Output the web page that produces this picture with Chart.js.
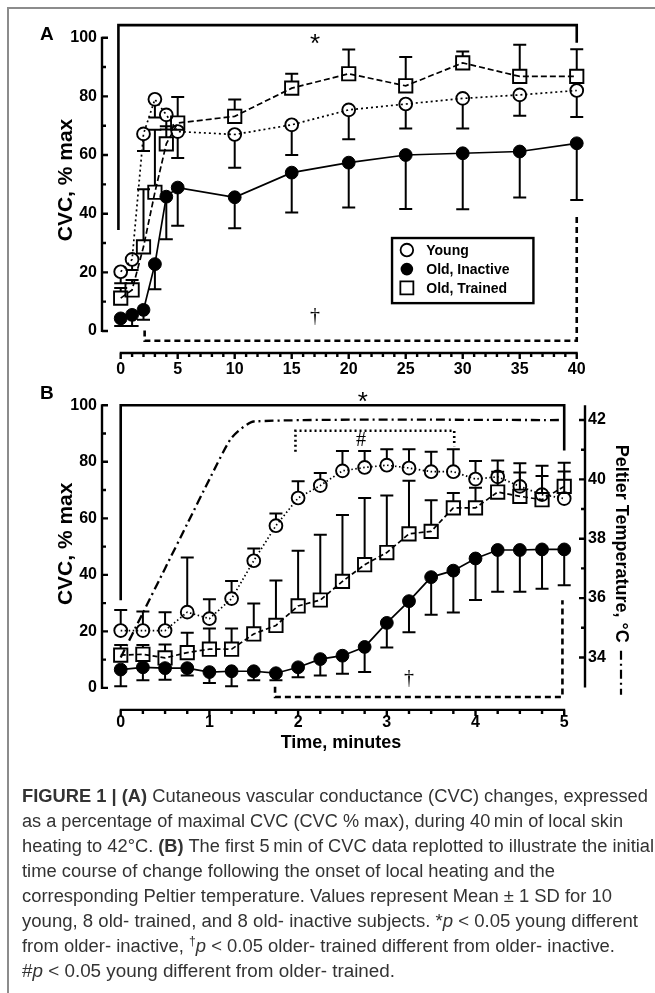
<!DOCTYPE html>
<html>
<head>
<meta charset="utf-8">
<script src="https://cdn.jsdelivr.net/npm/chart.js@4.4.1/dist/chart.umd.min.js"></script>
<style>
  html, body { margin: 0; padding: 0; background: #fff; }
  #fig { position: relative; width: 655px; height: 993px; overflow: hidden; }
  #frame { position: absolute; left: 7px; top: 7px; width: 700px; height: 1100px;
           border-left: 2px solid #8c8c8c; border-top: 2px solid #8c8c8c; }
  #cA { position: absolute; left: 0; top: 0; }
  #cB { position: absolute; left: 0; top: 370px; }
  #caption { position: absolute; left: 22px; top: 784px; color: #333;
             font-family: "Liberation Sans Narrow", "Liberation Sans", Arial, sans-serif;
             font-size: 18px; line-height: 25px; }
  #caption .ln { white-space: nowrap; width: max-content; height: 25px; transform-origin: left center; }
  #caption sup { font-size: 12px; line-height: 0; }
</style>
</head>
<body>
<div id="fig">
  <div id="frame"></div>
  <canvas id="cA" width="655" height="380"></canvas>
  <canvas id="cB" width="655" height="400"></canvas>
  <div id="caption">
    <div class="ln"><b>FIGURE 1 | (A)</b> Cutaneous vascular conductance (CVC) changes, expressed</div>
    <div class="ln">as a percentage of maximal CVC (CVC % max), during 40&thinsp;min of local skin</div>
    <div class="ln">heating to 42°C. <b>(B)</b> The first 5&thinsp;min of CVC data replotted to illustrate the initial</div>
    <div class="ln">time course of change following the onset of local heating and the</div>
    <div class="ln">corresponding Peltier temperature. Values represent Mean ± 1 SD for 10</div>
    <div class="ln">young, 8 old- trained, and 8 old- inactive subjects. *<i>p</i> &lt; 0.05 young different</div>
    <div class="ln">from older- inactive, <sup>†</sup><i>p</i> &lt; 0.05 older- trained different from older- inactive.</div>
    <div class="ln">#<i>p</i> &lt; 0.05 young different from older- trained.</div>
  </div>
</div>
<script>
// ---- panel A: 40 min of local heating (CVC, % max) ----
const timeA = [0, 1, 2, 3, 4, 5, 10, 15, 20, 25, 30, 35, 40];
const youngA = [20.2, 24.4, 67.2, 79.0, 73.7, 68.0, 67.0, 70.3, 75.4, 77.4, 79.3, 80.5, 82.0];
const youngASD = [3.9, 3.6, 5.8, 6.2, 5.0, 9.0, 11.3, 10.3, 10.0, 8.4, 10.3, 7.1, 9.0];
const inactiveA = [4.3, 5.5, 7.2, 22.8, 45.8, 48.9, 45.6, 54.0, 57.4, 60.0, 60.6, 61.2, 64.0];
const inactiveASD = [2.6, 3.8, 3.4, 8.6, 14.5, 13.0, 10.6, 13.6, 15.3, 18.4, 19.1, 15.7, 19.3];
const trainedA = [11.2, 14.0, 28.7, 47.3, 63.8, 70.9, 73.2, 82.8, 87.7, 83.6, 91.4, 86.8, 86.8];
const trainedASD = [3.5, 3.4, 19.6, 21.3, 6.0, 8.9, 5.7, 4.9, 8.3, 9.8, 3.9, 10.8, 9.3];

// ---- panel B: first 5 min, every 15 s ----
const timeB = [0, 0.25, 0.5, 0.75, 1, 1.25, 1.5, 1.75, 2, 2.25, 2.5, 2.75, 3, 3.25, 3.5, 3.75, 4, 4.25, 4.5, 4.75, 5];
const youngB = [20.3, 20.3, 20.3, 26.8, 24.5, 31.6, 45.0, 57.4, 67.2, 71.6, 76.8, 78.0, 78.8, 77.8, 76.5, 76.5, 73.9, 74.7, 71.3, 68.4, 67.0];
const youngBSD = [7.3, 6.7, 6.5, 19.3, 6.9, 6.2, 4.3, 4.3, 5.9, 4.4, 7.0, 5.8, 5.6, 6.6, 7.1, 7.9, 6.4, 5.8, 8.2, 10.2, 12.7];
const inactiveB = [6.5, 7.3, 7.0, 7.0, 5.6, 5.9, 5.9, 5.2, 7.3, 10.2, 11.4, 14.5, 23.0, 30.7, 39.2, 41.5, 45.8, 48.8, 48.8, 49.0, 49.0];
const inactiveBSD = [5.9, 4.6, 4.1, 2.6, 3.9, 5.3, 3.2, 2.5, 3.5, 5.8, 6.4, 8.9, 8.7, 11.0, 13.3, 14.8, 14.7, 14.8, 14.8, 13.9, 12.7];
const trainedB = [11.6, 11.9, 10.6, 12.5, 13.7, 13.7, 19.1, 22.1, 29.0, 31.1, 37.7, 43.6, 47.9, 54.5, 55.4, 63.7, 63.7, 69.3, 67.8, 66.6, 71.3];
const trainedBSD = [3.6, 3.3, 4.8, 7.0, 7.3, 7.3, 10.8, 15.9, 19.5, 23.1, 23.5, 23.6, 20.2, 18.8, 11.0, 5.3, 7.1, 7.2, 8.4, 8.4, 5.3];
const peltierTime = [0, 0.25, 0.5, 0.75, 1, 1.25, 1.5, 4.95];
const peltierTemp = [34.0, 35.5, 37.0, 38.5, 40.0, 41.4, 41.95, 42.0];

// ---- tick labels ----
const ticksAx = [0, 5, 10, 15, 20, 25, 30, 35, 40];
const ticksBx = [0, 1, 2, 3, 4, 5];
const ticksCVC = [0, 20, 40, 60, 80, 100];
const ticksTemp = [34, 36, 38, 40, 42];

// ---- significance brackets (x in min, y in CVC units) ----
const bracketsA = [
  { from: -0.2, to: 40, leftEnd: 34.4, level: 104.3, rightEnd: 98.3, dash: [], mark: '*', markX: 17.05, markY: 100.3 },
  { from: 2.1, to: 40, leftEnd: 0.2, level: -3.3, rightEnd: 40, dash: [6, 4], mark: '†', markX: 17.05, markY: 4.9 }
];
const bracketsB = [
  { from: 0, to: 5, leftEnd: 31, level: 100, rightEnd: 84, dash: [], mark: '*', markX: 2.73, markY: 103.4 },
  { from: 1.97, to: 3.76, leftEnd: 83.6, level: 91, rightEnd: 85.5, dash: [2, 3], mark: '#', markX: 2.71, markY: 87.3 },
  { from: 1.74, to: 4.98, leftEnd: 0.4, level: -3.2, rightEnd: 31, dash: [6, 4], mark: '†', markX: 3.25, markY: 3.2 }
];

const FONT = '"Liberation Sans", Arial, sans-serif';
const pts = (xs, ys) => xs.map((x, i) => ({ x: x, y: ys[i] }));

function near(v, step) { return Math.abs(v / step - Math.round(v / step)) < 1e-6; }

const figurePlugin = {
  id: 'figure',
  beforeDatasetsDraw(chart, args, o) {
    const ctx = chart.ctx, xs = chart.scales.x, ys = chart.scales.y;
    ctx.save();
    ctx.strokeStyle = '#000';
    ctx.fillStyle = '#000';
    o.brackets.forEach(b => {
      const x0 = xs.getPixelForValue(b.from), x1 = xs.getPixelForValue(b.to);
      const yl = ys.getPixelForValue(b.level);
      ctx.lineWidth = 2.6;
      ctx.setLineDash(b.dash);
      ctx.beginPath();
      ctx.moveTo(x0, ys.getPixelForValue(b.leftEnd));
      ctx.lineTo(x0, yl);
      ctx.lineTo(x1, yl);
      ctx.lineTo(x1, ys.getPixelForValue(b.rightEnd));
      ctx.stroke();
      ctx.setLineDash([]);
      ctx.textAlign = 'center';
      const mx = xs.getPixelForValue(b.markX), my = ys.getPixelForValue(b.markY);
      if (b.mark === '*') {
        ctx.font = '26px ' + FONT;
        ctx.textBaseline = 'alphabetic';
        ctx.fillText(b.mark, mx, my + 0.57 * 26);
      } else {
        ctx.font = '20px "Liberation Serif", serif';
        ctx.textBaseline = 'middle';
        ctx.fillText(b.mark, mx, my);
      }
    });
    // error bars: one-sided, starting at the marker edge
    ctx.lineWidth = 2;
    o.errors.forEach(e => {
      const meta = chart.getDatasetMeta(e.dataset);
      meta.data.forEach((pt, i) => {
        const tip = ys.getPixelForValue(e.mean[i] + e.dir * e.sd[i]);
        const start = pt.y - e.dir * e.gap;
        if ((start - tip) * e.dir <= 0) return;
        ctx.beginPath();
        ctx.moveTo(pt.x, start);
        ctx.lineTo(pt.x, tip);
        ctx.moveTo(pt.x - 6.5, tip);
        ctx.lineTo(pt.x + 6.5, tip);
        ctx.stroke();
      });
    });
    ctx.restore();
  },
  afterDraw(chart, args, o) {
    const ctx = chart.ctx, xs = chart.scales.x, ys = chart.scales.y, area = chart.chartArea;
    ctx.save();
    ctx.strokeStyle = '#000';
    ctx.fillStyle = '#000';
    ctx.lineWidth = 2.4;
    // left spine, ticks pointing inwards
    ctx.beginPath();
    ctx.moveTo(area.left, ys.getPixelForValue(0) + 1);
    ctx.lineTo(area.left, ys.getPixelForValue(100) - 1);
    for (let v = 0; v <= 100; v += 10) {
      const p = ys.getPixelForValue(v);
      ctx.moveTo(area.left, p);
      ctx.lineTo(area.left + (near(v, 20) ? 6 : 4), p);
    }
    // offset bottom spine, ticks pointing down
    const by = ys.getPixelForValue(0) + 22;
    const n = Math.round(o.xEnd / o.xMinor);
    ctx.moveTo(xs.getPixelForValue(0) - 1, by);
    ctx.lineTo(xs.getPixelForValue(o.xEnd) + 1, by);
    for (let i = 0; i <= n; i++) {
      const v = i * o.xMinor, p = xs.getPixelForValue(v);
      ctx.moveTo(p, by);
      ctx.lineTo(p, by + (near(v, o.xMajor) ? 6 : 4));
    }
    ctx.stroke();
    // right temperature spine (panel B)
    const t = chart.scales.y2;
    if (t) {
      const rx = area.right + 5;
      ctx.beginPath();
      ctx.moveTo(rx, t.getPixelForValue(32.99));
      ctx.lineTo(rx, t.getPixelForValue(42.5));
      for (let v = 34; v <= 42; v++) {
        const p = t.getPixelForValue(v);
        ctx.moveTo(rx, p);
        ctx.lineTo(rx - (v % 2 === 0 ? 6 : 4), p);
      }
      ctx.stroke();
      // dash-dot key after the rotated title
      ctx.font = 'bold 18px ' + FONT;
      const w = ctx.measureText(t.options.title.text).width;
      const cx = t.right - 34, y0 = (area.top + area.bottom) / 2 + w / 2 + 8;
      ctx.lineWidth = 2.2;
      ctx.setLineDash([9, 4, 2, 4]);
      ctx.beginPath();
      ctx.moveTo(cx, y0);
      ctx.lineTo(cx, y0 + 44);
      ctx.stroke();
      ctx.setLineDash([]);
    }
    // legend box (panel A)
    if (o.legend) {
      const L = o.legend;
      const x0 = xs.getPixelForValue(L.box[0]), x1 = xs.getPixelForValue(L.box[1]);
      const y0 = ys.getPixelForValue(L.box[2]), y1 = ys.getPixelForValue(L.box[3]);
      ctx.lineWidth = 2.4;
      ctx.strokeRect(x0, y0, x1 - x0, y1 - y0);
      ctx.font = 'bold 14px ' + FONT;
      ctx.textAlign = 'left';
      ctx.textBaseline = 'middle';
      ctx.lineWidth = 1.8;
      chart.data.datasets.forEach((ds, i) => {
        const mx = xs.getPixelForValue(L.markX), my = ys.getPixelForValue(L.rows[i]);
        ctx.beginPath();
        if (ds.pointStyle === 'rect') {
          ctx.rect(mx - 6.5, my - 6.5, 13, 13);
          ctx.stroke();
        } else {
          ctx.arc(mx, my, 6.3, 0, Math.PI * 2);
          if (ds.pointBackgroundColor === '#000') ctx.fill(); else ctx.stroke();
        }
        ctx.fillText(ds.label, xs.getPixelForValue(L.textX), my + 1);
      });
    }
    // panel letter
    ctx.font = 'bold 19px ' + FONT;
    ctx.textAlign = 'left';
    ctx.textBaseline = 'middle';
    ctx.fillText(o.panel, 40, o.panelY);
    ctx.restore();
  }
};

function series(label, data, kind, dash) {
  const open = kind !== 'filled';
  return {
    label: label, data: data, clip: false, fill: false, tension: 0,
    borderColor: '#000', borderWidth: 1.7, borderDash: dash,
    pointStyle: kind === 'square' ? 'rect' : 'circle',
    pointRadius: kind === 'square' ? 9.4 : 6.4,
    pointBorderWidth: open ? 1.9 : 1,
    pointBorderColor: '#000',
    pointBackgroundColor: open ? 'rgba(255,255,255,0)' : '#000'
  };
}

function cvcAxis(min, max) {
  return {
    min: min, max: max, bounds: 'data',
    afterBuildTicks: s => { s.ticks = ticksCVC.map(v => ({ value: v })); },
    afterFit: s => { s.width = 102; },
    grid: { display: false, drawTicks: false }, border: { display: false },
    ticks: { padding: 5, color: '#000', font: { family: FONT, size: 16, weight: 'bold' } },
    title: { display: true, text: 'CVC, % max', color: '#000', padding: { top: 54, bottom: 0 },
             font: { family: FONT, size: 21, weight: 'bold' } }
  };
}

function timeAxis(min, max, ticks, height, pad) {
  return {
    type: 'linear', min: min, max: max, bounds: 'data',
    afterBuildTicks: s => { s.ticks = ticks.map(v => ({ value: v })); },
    afterFit: s => { s.height = height; },
    grid: { display: false, drawTicks: false }, border: { display: false },
    ticks: { padding: pad, color: '#000', font: { family: FONT, size: 16, weight: 'bold' } }
  };
}

const common = { responsive: false, animation: false, events: [] };

const chartA = new Chart(document.getElementById('cA'), {
  type: 'line',
  data: {
    datasets: [
      series('Young', pts(timeA, youngA), 'open', [2, 3]),
      series('Old, Inactive', pts(timeA, inactiveA), 'filled', []),
      series('Old, Trained', pts(timeA, trainedA), 'square', [6, 3])
    ]
  },
  options: Object.assign({}, common, {
    layout: { padding: { left: 0, right: 55, top: 15, bottom: 0 } },
    scales: {
      x: timeAxis(-1.64, 42.04, ticksAx, 35, 15),
      y: cvcAxis(-4.773, 107.74)
    },
    plugins: {
      legend: { display: false }, tooltip: { enabled: false },
      figure: {
        panel: 'A', panelY: 35, xEnd: 40, xMinor: 1, xMajor: 5,
        brackets: bracketsA,
        legend: { box: [23.8, 36.2, 31.7, 9.5], markX: 25.1, textX: 26.8, rows: [27.6, 21.1, 14.7] },
        errors: [
          { dataset: 0, mean: youngA, sd: youngASD, dir: -1, gap: 6.4 },
          { dataset: 1, mean: inactiveA, sd: inactiveASD, dir: -1, gap: 0 },
          { dataset: 2, mean: trainedA, sd: trainedASD, dir: 1, gap: 6.6 }
        ]
      }
    }
  }),
  plugins: [figurePlugin]
});

const peltier = {
  label: 'Peltier', data: pts(peltierTime, peltierTemp), yAxisID: 'y2', clip: false,
  borderColor: '#000', borderWidth: 2.3, borderDash: [9, 4, 2, 4], pointRadius: 0, tension: 0.2
};

const chartB = new Chart(document.getElementById('cB'), {
  type: 'line',
  data: {
    datasets: [
      series('Young', pts(timeB, youngB), 'open', [1.5, 2.5]),
      series('Old, Inactive', pts(timeB, inactiveB), 'filled', []),
      series('Old, Trained', pts(timeB, trainedB), 'square', [5, 3]),
      peltier
    ]
  },
  options: Object.assign({}, common, {
    layout: { padding: { left: 0, right: 0, top: 12, bottom: 0 } },
    scales: {
      x: Object.assign(timeAxis(-0.211, 5.178, ticksBx, 70, 13), {
        title: { display: true, text: 'Time, minutes', color: '#000', padding: { top: 0, bottom: 16 },
                 font: { family: FONT, size: 18, weight: 'bold' } }
      }),
      y: cvcAxis(-4.275, 106.256),
      y2: {
        position: 'right', min: 32.566, max: 43.092, bounds: 'data',
        afterBuildTicks: s => { s.ticks = ticksTemp.map(v => ({ value: v })); },
        afterFit: s => { s.width = 75; },
        grid: { display: false, drawTicks: false }, border: { display: false },
        ticks: { padding: 8, color: '#000', font: { family: FONT, size: 16, weight: 'bold' } },
        title: { display: true, text: 'Peltier Temperature, °C', color: '#000', padding: { top: 23, bottom: 0 },
                 font: { family: FONT, size: 18, weight: 'bold' } }
      }
    },
    plugins: {
      legend: { display: false }, tooltip: { enabled: false },
      figure: {
        panel: 'B', panelY: 23.5, xEnd: 5, xMinor: 0.25, xMajor: 1,
        brackets: bracketsB,
        errors: [
          { dataset: 0, mean: youngB, sd: youngBSD, dir: 1, gap: 6.4 },
          { dataset: 1, mean: inactiveB, sd: inactiveBSD, dir: -1, gap: 0 },
          { dataset: 2, mean: trainedB, sd: trainedBSD, dir: 1, gap: 6.6 }
        ]
      }
    }
  }),
  plugins: [figurePlugin]
});

// squeeze each caption line to the width it has in the printed figure
const captionWidths = [626, 601, 632, 533, 590, 616, 593, 373];
document.querySelectorAll('#caption .ln').forEach((el, i) => {
  const w = el.getBoundingClientRect().width;
  el.style.transform = 'scaleX(' + (captionWidths[i] / w).toFixed(4) + ')';
});
</script>
</body>
</html>
